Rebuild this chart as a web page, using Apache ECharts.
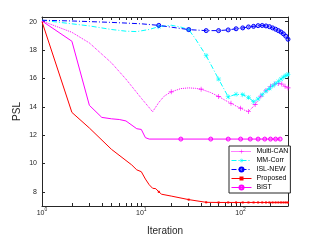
<!DOCTYPE html>
<html><head><meta charset="utf-8">
<script src="https://cdn.jsdelivr.net/npm/echarts@6/dist/echarts.min.js"></script>
<style>html,body{margin:0;padding:0;background:#fff}#c{width:321px;height:241px}</style>
</head><body><div id="c"></div>
<script>
// ---- axis ticks ----
const xTicks = [1,2,3,4,5,6,7,8,9,10,20,30,40,50,60,70,80,90,100,200,300];
const xLabels = [1,10,100];
const yTicks = [8,10,12,14,16,18,20];

// ---- Multi-CAN ----
const canIter = [1,2,3,5,7,10,13,15,17,20,25,30,35,40,50,60,70,80,90,100,110,120,140,160,180,200,220,240,260,280,300];
const canPSL  = [20.05,19.25,18.5,17.1,15.95,14.6,13.65,14.3,14.75,15.05,15.28,15.33,15.3,15.24,15.0,14.73,14.45,14.25,14.05,13.9,13.75,13.66,14.15,14.75,15.15,15.45,15.6,15.64,15.6,15.45,15.33];
const canMarks = [20,40,60,80,100,120,140,160,180,200,220,240,260,280,300];

// ---- MM-Corr ----
const mmIter = [1,2,3,5,7,9,12,15,20,25,30,35,45,60,75,90,105,120,135,150,165,180,195,210,225,240,255,270,285,300];
const mmPSL  = [20.1,19.85,19.7,19.45,19.33,19.3,19.45,19.65,19.75,19.62,19.44,18.8,17.6,15.95,14.7,14.88,14.85,14.66,14.36,14.55,14.85,15.1,15.3,15.47,15.63,15.8,15.95,16.1,16.2,16.28];
const mmMarks = [15,30,45,60,75,90,105,120,135,150,165,180,195,210,225,240,255,270,285,300];

// ---- ISL-NEW ----
const islIter = [1,2,5,10,15,30,45,60,75,90,105,120,135,150,165,180,195,210,225,240,255,270,285,300];
const islPSL  = [20.1,20.05,19.95,19.85,19.74,19.44,19.37,19.37,19.42,19.5,19.56,19.63,19.67,19.72,19.73,19.7,19.65,19.56,19.47,19.37,19.27,19.14,18.98,18.76];
const islMarks = [15,30,45,60,75,90,105,120,135,150,165,180,195,210,225,240,255,270,285,300];

// ---- Proposed ----
const propIter = [1,2,3,5,8,9,10,11,12,13,14,15,16,20,30,45,60,75,90,105,120,135,150,165,180,195,210,225,240,255,270,285,300];
const propPSL  = [20.0,13.6,12.5,11.0,9.9,9.55,9.42,8.9,8.5,8.25,8.22,8.0,7.83,7.7,7.45,7.26,7.25,7.25,7.25,7.25,7.25,7.25,7.25,7.25,7.25,7.25,7.25,7.25,7.25,7.25,7.25,7.25,7.25];
const propMarks = [15,30,45,60,75,90,105,120,135,150,165,180,195,210,225,240,255,270,285,300];

// ---- BiST ----
const bistIter = [1,2,3,4,5,6,7,9,10,11,12,25,50,75,100,125,150,175,200,225,250];
const bistPSL  = [20.05,18.62,14.1,13.25,13.15,13.1,13.0,12.45,12.4,11.82,11.72,11.72,11.72,11.72,11.72,11.72,11.72,11.72,11.72,11.72,11.72];
const bistMarks = [25,50,75,100,125,150,175,200,225,250];

function build(iters, vals, marks){
  return iters.map((it,i)=> marks.indexOf(it) >= 0 ? [it, vals[i]] : {value:[it, vals[i]], symbol:'none'});
}

const FONT = 'Liberation Sans';
const AX = '#262626';
const plusPath = 'path://M4.4,0H5.6V4.4H10V5.6H5.6V10H4.4V5.6H0V4.4H4.4Z';
const starPath = 'path://M4.5,0H5.5V4.5H10V5.5H5.5V10H4.5V5.5H0V4.5H4.5Z M1.5,0.8L5,4.3L8.5,0.8L9.2,1.5L5.7,5L9.2,8.5L8.5,9.2L5,5.7L1.5,9.2L0.8,8.5L4.3,5L0.8,1.5Z';
const dashDot = [5,2,1,2];

const chart = echarts.init(document.getElementById('c'), null, {renderer:'canvas'});

function xAxisCfg(pos, labels){
  return {
    type:'log', logBase:10, min:1, max:300, position:pos,
    axisLine:{show:true, onZero:false, lineStyle:{color:AX, width:1}},
    axisTick:{show:true, inside:true, length:3, customValues:xTicks, lineStyle:{color:AX, width:1}},
    axisLabel:{show:labels, customValues:xLabels, margin:3,
      formatter: v => '{b|10}{s|' + Math.round(Math.log10(v)) + '}',
      rich:{
        b:{fontSize:7, fontFamily:FONT, color:AX, lineHeight:8, verticalAlign:'bottom'},
        s:{fontSize:5, fontFamily:FONT, color:AX, lineHeight:5, padding:[0,0,5,0], verticalAlign:'bottom'}
      }},
    splitLine:{show:false},
    name: labels ? 'Iteration' : '', nameLocation:'middle', nameGap:20, nameMoveOverlap:false,
    nameTextStyle:{fontSize:10, fontFamily:FONT, color:AX}
  };
}
function yAxisCfg(pos, labels){
  return {
    type:'value', min:7, max:20.33, position:pos,
    axisLine:{show:true, onZero:false, lineStyle:{color:AX, width:1}},
    axisTick:{show:true, inside:true, length:3, customValues:yTicks, lineStyle:{color:AX, width:1}},
    axisLabel:{show:labels, customValues:yTicks, margin:5, fontSize:7, fontFamily:FONT, color:AX},
    splitLine:{show:false},
    name: labels ? 'PSL' : '', nameLocation:'middle', nameGap:20, nameMoveOverlap:false,
    nameTextStyle:{fontSize:10, fontFamily:FONT, color:AX}
  };
}

chart.setOption({
  animation:false,
  backgroundColor:'#fff',
  grid:{left:42, top:17, width:246, height:190, containLabel:false},
  xAxis:[xAxisCfg('bottom', true), xAxisCfg('top', false)],
  yAxis:[yAxisCfg('left', true), yAxisCfg('right', false)],
  legend:{
    orient:'vertical', left:229, top:146,
    backgroundColor:'#fff', borderColor:AX, borderWidth:1, borderRadius:0,
    padding:[2,2,2,2], itemWidth:20, itemHeight:5, itemGap:2,
    lineStyle:{width:1},
    textStyle:{fontSize:7, fontFamily:FONT, color:'#000', lineHeight:7},
    data:['Multi-CAN','MM-Corr','ISL-NEW','Proposed','BiST']
  },
  series:[
    {name:'Multi-CAN', type:'line', data:build(canIter, canPSL, canMarks),
     symbol:plusPath, symbolSize:5, color:'#ff00ff',
     itemStyle:{color:'#ff00ff'}, lineStyle:{color:'#ff00ff', width:1, type:'dotted'}},
    {name:'MM-Corr', type:'line', data:build(mmIter, mmPSL, mmMarks),
     symbol:starPath, symbolSize:5, color:'#00ffff',
     itemStyle:{color:'#00ffff'}, lineStyle:{color:'#00ffff', width:1, type:dashDot}},
    {name:'ISL-NEW', type:'line', data:build(islIter, islPSL, islMarks),
     symbol:'circle', symbolSize:4, color:'#0000ff',
     itemStyle:{color:'rgba(0,0,255,0.3)', borderColor:'#0000ff', borderWidth:1}, lineStyle:{color:'#0000ff', width:1, type:dashDot}},
    {name:'Proposed', type:'line', data:build(propIter, propPSL, propMarks),
     symbol:'rect', symbolSize:2, color:'#ff0000',
     itemStyle:{color:'#ff0000'}, lineStyle:{color:'#ff0000', width:1, type:'solid'}},
    {name:'BiST', type:'line', data:build(bistIter, bistPSL, bistMarks),
     symbol:'circle', symbolSize:4, color:'#ff00ff',
     itemStyle:{color:'rgba(255,0,255,0.3)', borderColor:'#ff00ff', borderWidth:1}, lineStyle:{color:'#ff00ff', width:1, type:'solid'}}
  ]
});
</script>
</body></html>
